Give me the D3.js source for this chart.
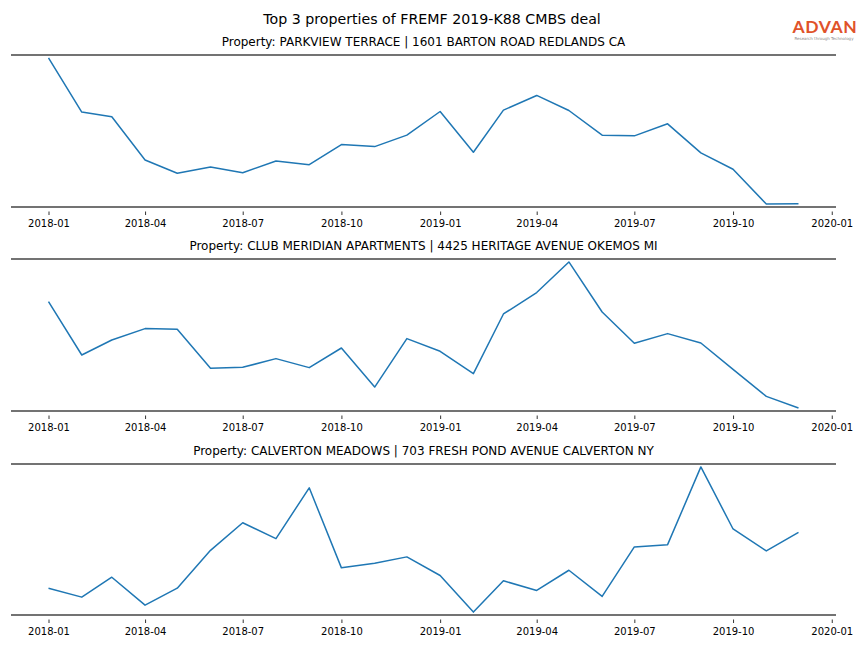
<!DOCTYPE html>
<html>
<head>
<meta charset="utf-8">
<script src="https://cdn.jsdelivr.net/npm/d3@7/dist/d3.min.js"></script>
<style>
  html, body { margin: 0; padding: 0; background: #fff; }
  svg { display: block; font-family: "DejaVu Sans", sans-serif; }
</style>
</head>
<body>
<svg id="chart" width="864" height="648"></svg>
<script>
const chartTitle = "Top 3 properties of FREMF 2019-K88 CMBS deal";
const months = ["2018-01","2018-02","2018-03","2018-04","2018-05","2018-06","2018-07","2018-08","2018-09","2018-10","2018-11","2018-12",
                "2019-01","2019-02","2019-03","2019-04","2019-05","2019-06","2019-07","2019-08","2019-09","2019-10","2019-11","2019-12"];
const tickLabels = ["2018-01","2018-04","2018-07","2018-10","2019-01","2019-04","2019-07","2019-10","2020-01"];
const propertyTitles = [
  "Property: PARKVIEW TERRACE | 1601 BARTON ROAD REDLANDS CA",
  "Property: CLUB MERIDIAN APARTMENTS | 4425 HERITAGE AVENUE OKEMOS MI",
  "Property: CALVERTON MEADOWS | 703 FRESH POND AVENUE CALVERTON NY"
];
const seriesParkview = [148.7, 94.7, 90, 47, 33.7, 40, 34.3, 46, 42.3, 62.3, 60.3, 71.7, 95.3, 54.7, 96.7, 111.3, 96.3, 71.7, 71, 83, 54, 37.7, 3, 3.3];
const seriesMeridian = [108.7, 55.3, 70.3, 81.7, 81, 42, 43, 51.7, 42.7, 62.3, 23.3, 71.7, 59, 36.7, 96.3, 117.7, 148.3, 98.3, 67, 76.7, 67.3, 41, 14, 2.3];
const seriesCalverton = [26.3, 17.3, 37.3, 9.3, 26.3, 64.3, 92, 76, 127, 46.7, 51.3, 57.7, 39, 2.3, 33.7, 24, 44.3, 18, 67.7, 70, 148, 85.7, 63.7, 82.3];
const allSeries = [seriesParkview, seriesMeridian, seriesCalverton];

const svg = d3.select("#chart");
const parse = d3.timeParse("%Y-%m");
const dates = months.map(parse);

const left = 11, right = 836;
const panels = [{top: 55, bottom: 207}, {top: 259, bottom: 411}, {top: 464, bottom: 615}];

const dMin = dates[0], dMax = dates[dates.length - 1];
const span = dMax - dMin;
const x = d3.scaleTime()
  .domain([new Date(+dMin - 0.05 * span), new Date(+dMax + 0.05 * span)])
  .range([left, right]);

svg.append("text")
  .attr("x", 432).attr("y", 24)
  .attr("text-anchor", "middle")
  .attr("font-size", 14.2)
  .attr("fill", "#000")
  .text(chartTitle);

// logo
const logo = svg.append("g");
logo.append("text")
  .attr("x", 825).attr("y", 32.5)
  .attr("text-anchor", "middle")
  .attr("font-family", "Lato, 'Open Sans', sans-serif")
  .attr("font-size", 17.5)
  .attr("font-weight", 700)
  .attr("letter-spacing", 0.6)
  .attr("fill", "#e0522a")
  .text("ADVAN");
logo.append("text")
  .attr("x", 824).attr("y", 39.5)
  .attr("text-anchor", "middle")
  .attr("font-size", 4)
  .attr("fill", "#888")
  .text("Research through Technology");

panels.forEach((p, i) => {
  const vals = allSeries[i];
  const ext = d3.extent(vals);
  const pad = (ext[1] - ext[0]) * 0.02;
  const y = d3.scaleLinear().domain([ext[0] - pad, ext[1] + pad]).range([p.bottom, p.top]);
  const g = svg.append("g");

  g.append("text")
    .attr("x", (left + right) / 2).attr("y", p.top - 9)
    .attr("text-anchor", "middle")
    .attr("font-size", 12)
    .attr("fill", "#000")
    .text(propertyTitles[i]);

  const xAxis = d3.axisBottom(x)
    .tickValues(tickLabels.map(parse))
    .tickFormat(d3.timeFormat("%Y-%m"))
    .tickSize(3.5)
    .tickPadding(5);
  const ax = g.append("g").attr("transform", `translate(0,${p.bottom + 4.5})`).call(xAxis);
  ax.select(".domain").remove();
  ax.selectAll(".tick line").attr("stroke", "#000").attr("stroke-width", 0.8);
  ax.selectAll(".tick text").attr("font-size", 10).attr("font-family", "DejaVu Sans, sans-serif").attr("fill", "#000");

  g.append("path")
    .datum(vals.map((v, j) => [dates[j], v]))
    .attr("fill", "none")
    .attr("stroke", "#1f77b4")
    .attr("stroke-width", 1.5)
    .attr("stroke-linejoin", "round")
    .attr("d", d3.line().x(d => x(d[0])).y(d => y(d[1])));

  [p.top, p.bottom].forEach(yy => {
    g.append("line")
      .attr("x1", left).attr("x2", right)
      .attr("y1", yy).attr("y2", yy)
      .attr("stroke", "#444")
      .attr("stroke-width", 1.6);
  });
});
</script>
</body>
</html>
